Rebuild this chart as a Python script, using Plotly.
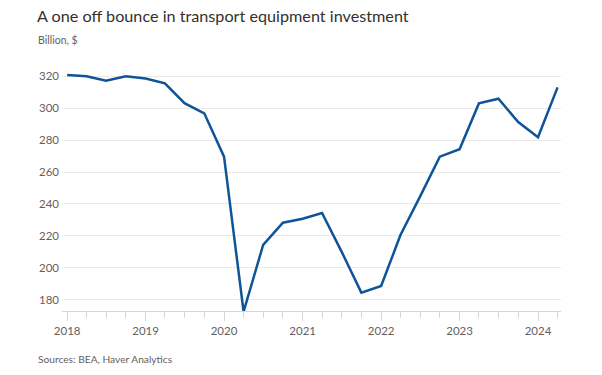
import plotly.graph_objects as go

quarters = ["2018-01-01","2018-04-01","2018-07-01","2018-10-01",
            "2019-01-01","2019-04-01","2019-07-01","2019-10-01",
            "2020-01-01","2020-04-01","2020-07-01","2020-10-01",
            "2021-01-01","2021-04-01","2021-07-01","2021-10-01",
            "2022-01-01","2022-04-01","2022-07-01","2022-10-01",
            "2023-01-01","2023-04-01","2023-07-01","2023-10-01",
            "2024-01-01","2024-04-01"]
investment = [320.6, 319.8, 317.0, 319.8,
              318.5, 315.4, 303.0, 296.7,
              269.6, 172.7, 214.4, 228.3,
              230.8, 234.4, 210.2, 184.6,
              188.7, 220.6, 244.6, 269.6,
              274.2, 302.9, 305.8, 291.2,
              281.7, 312.9]
y_ticks = [180, 200, 220, 240, 260, 280, 300, 320]
x_ticks = ["2018-01-01","2019-01-01","2020-01-01","2021-01-01","2022-01-01","2023-01-01","2024-01-01"]
x_labels = ["2018","2019","2020","2021","2022","2023","2024"]

FONT = "Lato, Inter, sans-serif"
L, R, T, B = 62, 41, 65, 64
PW, PH = 602 - L - R, 375 - T - B

fig = go.Figure()
fig.add_trace(go.Scatter(x=quarters, y=investment, mode="lines",
                         line=dict(color="#0f5499", width=2.5), hoverinfo="x+y"))

fig.update_layout(
    width=602, height=375,
    margin=dict(l=L, r=R, t=T, b=B, autoexpand=False),
    paper_bgcolor="white", plot_bgcolor="white",
    showlegend=False,
    font=dict(family=FONT, color="#66605c", size=11),
)

def px_x(px):
    return (px - L) / PW

def px_y(py):
    return 1 - (py - T) / PH

fig.add_annotation(text="A one off bounce in transport equipment investment",
                   xref="paper", yref="paper", x=px_x(35), y=px_y(15),
                   xanchor="left", yanchor="middle", showarrow=False,
                   font=dict(family=FONT, size=16.2, color="#33302e"))
fig.add_annotation(text="Billion, $",
                   xref="paper", yref="paper", x=px_x(36), y=px_y(40),
                   xanchor="left", yanchor="middle", showarrow=False,
                   font=dict(family=FONT, size=10.5, color="#66605c"))
fig.add_annotation(text="Sources: BEA, Haver Analytics",
                   xref="paper", yref="paper", x=px_x(36), y=px_y(359),
                   xanchor="left", yanchor="middle", showarrow=False,
                   font=dict(family=FONT, size=10.2, color="#66605c"))

fig.update_xaxes(
    type="date",
    range=["2017-12-08", "2024-04-17"],
    tickvals=x_ticks, ticktext=x_labels,
    ticks="outside", ticklen=9, tickcolor="#d9d5d1", tickwidth=1,
    showline=True, linecolor="#d9d5d1", linewidth=1,
    showgrid=False, zeroline=False, automargin=False,
    tickfont=dict(family=FONT, size=11.5, color="#66605c"),
    minor=dict(dtick="M3", tick0="2018-01-01", ticks="outside", ticklen=6,
               tickcolor="#d9d5d1", showgrid=False),
)
fig.update_yaxes(
    range=[173.1, 326.9],
    tickvals=y_ticks,
    showgrid=True, gridcolor="#ebe8e5", gridwidth=1,
    zeroline=False, showline=False, ticks="", automargin=False,
    ticklabelstandoff=2,
    tickfont=dict(family=FONT, size=11.5, color="#66605c"),
)

fig.write_html("out.html",
               config={"displayModeBar": False},
               post_script="document.body.style.margin='0';document.body.style.padding='0';")
